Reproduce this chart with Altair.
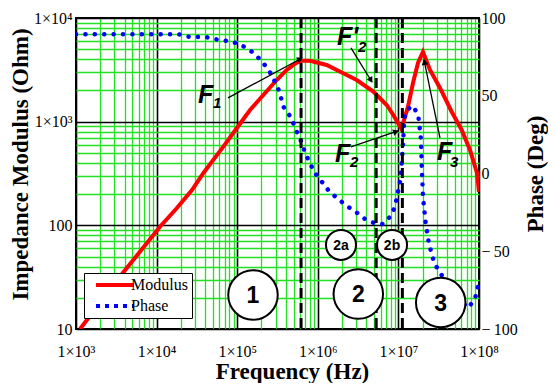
import math
import altair as alt
import pandas as pd

# ---------------- data ----------------
mod_f = [1122, 3828, 11015, 17750, 27480, 37930, 67300, 98600, 144300, 210900,
         309000, 411000, 547000, 631000, 800000, 1288000, 2070000, 3034000,
         4887000, 7161000, 8650000, 10900000, 13150000, 15170000, 17500000,
         20180000, 24660000, 32810000, 45810000, 60950000, 77270000, 94410000,
         100000000]
mod_z = [10.0, 34.8, 97, 146, 219, 318, 574, 863, 1297, 1807,
         2523, 3155, 3707, 3873, 3873, 3524, 2931, 2523,
         1950, 1449, 1161, 851, 1396, 2360, 3681,
         4699, 3155, 2113, 1247, 832, 533, 320,
         210]

phase_f = [1000, 18970, 24550, 41880, 54580, 71120, 93970, 122500, 158500, 204600,
           250000, 286400, 323600, 381100, 461300, 567500, 636800, 693400, 799800,
           897400, 1127000, 1377000, 1782000, 2301000, 2979000, 3855000, 4977000,
           6440000, 7870000, 8890000, 9530000, 9980000, 10470000, 10990000, 11400000,
           11720000, 12080000, 13650000, 15310000, 17660000, 18160000, 18920000,
           19230000, 19450000, 19630000, 20000000, 20180000, 20800000, 21380000,
           21980000, 23070000, 23990000, 25880000, 27670000, 32810000, 43650000,
           58080000, 73110000, 89130000, 94410000, 100000000]
phase_deg = [89.5, 89.5, 88.0, 87.6, 86.3, 85.4, 84.1, 81.5, 77.7, 71.9,
             65.9, 60.1, 54.3, 42.1, 36.3, 24.8, 19.6, 13.2, 6.8,
             1.0, -5.4, -11.3, -16.4, -20.9, -24.8, -29.3, -31.8,
             -32.5, -27.8, -22.4, -16.0, -10.6, -5.3, 6.8, 18.3,
             31.2, 37.6, 42.1, 43.4, 37.0, 31.2, 23.7,
             15.1, 6.6, 0.1, -9.5, -15.8, -21.5, -27.8,
             -33.8, -39.5, -46.0, -51.1, -57.4, -63.8, -73.0,
             -81.4, -86.5, -80.7, -74.9, -70.4]

series_names = ["Modulus", "Phase"]

# dashed boundaries (Hz)
bound_f = [620000, 5300000, 11200000]

# region circles
big_label = ["1", "2", "3"]
big_f = [157000, 3180000, 33500000]
big_z = [21.3, 21.7, 18.0]
small_label = ["2a", "2b"]
small_f = [1940000, 8340000]
small_z = [64.7, 64.7]

# F labels (main letter + subscript)
f_main = ["F", "F'", "F", "F"]
f_main_f = [32700, 1730000, 1630000, 30100000]
f_main_z = [1514, 5495, 408, 428]
f_sub = ["1", "2", "2", "3"]
f_sub_f = [50000, 3160000, 2510000, 43700000]
f_sub_z = [1355, 4700, 366, 366]

# arrows
arr_tail_f = [76900, 2580000, 2580000, 32800000]
arr_tail_z = [1694, 5140, 570, 697]
arr_tip_f = [637000, 4700000, 9890000, 20800000]
arr_tip_z = [4110, 2415, 813, 3936]

# ---------------- layout ----------------
W, H = 403, 311
F_DOM = [1e3, 1e8]
Z_DOM = [10, 1e4]


def px(f):
    return (math.log10(f) - 3) / 5 * W


def py(z):
    return (4 - math.log10(z)) / 3 * H


def inv(x, y):
    return 10 ** (3 + x / W * 5), 10 ** (4 - y / H * 3)


head_f, head_z, head_a = [], [], []
for tf, tz, hf, hz in zip(arr_tail_f, arr_tail_z, arr_tip_f, arr_tip_z):
    dx, dy = px(hf) - px(tf), py(hz) - py(tz)
    L = math.hypot(dx, dy)
    ux, uy = dx / L, dy / L
    cf, cz = inv(px(hf) - 3 * ux, py(hz) - 3 * uy)
    head_f.append(cf)
    head_z.append(cz)
    head_a.append(math.degrees(math.atan2(dx, -dy)) % 360)

mod_df = pd.DataFrame({"f": mod_f, "z": mod_z})
ph_df = pd.DataFrame({"f": phase_f, "p": phase_deg})
leg_df = pd.DataFrame({"f": [1e3, 1e3], "z": [10, 10], "series": series_names})
bound_df = pd.DataFrame({"f": bound_f})
big_df = pd.DataFrame({"f": big_f, "z": big_z, "t": big_label})
small_df = pd.DataFrame({"f": small_f, "z": small_z, "t": small_label})
fmain_df = pd.DataFrame({"f": f_main_f, "z": f_main_z, "t": f_main})
fsub_df = pd.DataFrame({"f": f_sub_f, "z": f_sub_z, "t": f_sub})
arr_df = pd.DataFrame({"f": arr_tail_f, "z": arr_tail_z, "f2": arr_tip_f, "z2": arr_tip_z})
head_df = pd.DataFrame({"f": head_f, "z": head_z, "a": head_a})

SERIF = "Liberation Serif"
SANS = "Liberation Sans"
GREEN = "#22e022"

decade = "abs(log(datum.value)/LN10 - round(log(datum.value)/LN10)) < 0.001"
sup = "['⁰','¹','²','³','⁴','⁵','⁶','⁷','⁸','⁹'][round(log(datum.value)/LN10)]"

xscale = alt.Scale(type="log", domain=F_DOM, nice=False)
zscale = alt.Scale(type="log", domain=Z_DOM, nice=False)
pscale = alt.Scale(domain=[-100, 100], nice=False, zero=False)

x_axis = alt.Axis(
    title="Frequency (Hz)", tickCount=20, ticks=False, domain=False,
    labelExpr=f"{decade} ? '1×10' + {sup} : ''", labelOverlap=False,
    labelFont=SERIF, labelFontSize=16, labelColor="black", labelPadding=14,
    labelFlush=False,
    titleFont=SERIF, titleFontSize=23, titleFontWeight="bold", titleColor="black",
    titlePadding=1, titleX=216,
    grid=True,
    gridColor={"condition": {"test": decade, "value": "black"}, "value": GREEN},
    gridWidth={"condition": {"test": decade, "value": 1.6}, "value": 1.3},
    gridOpacity=1,
)
y_axis = alt.Axis(
    title="Impedance Modulus (Ohm)", tickCount=20, ticks=False, domain=False,
    labelExpr=f"{decade} ? (datum.value >= 1000 ? '1×10' + {sup} : format(datum.value, 'd')) : ''",
    labelOverlap=False, labelFont=SERIF, labelFontSize=16, labelColor="black",
    labelPadding=4, labelFlush=False,
    titleFont=SERIF, titleFontSize=23, titleFontWeight="bold", titleColor="black",
    titlePadding=1, titleY=146,
    grid=True,
    gridColor={"condition": {"test": decade, "value": "black"}, "value": GREEN},
    gridWidth={"condition": {"test": decade, "value": 1.6}, "value": 1.3},
    gridOpacity=1,
)
p_axis = alt.Axis(
    orient="right", title="Phase (Deg)", values=[-100, -50, 0, 50, 100],
    ticks=False, domain=False, grid=False,
    labelExpr="datum.value < 0 ? '\u2212\u2009' + abs(datum.value) : '' + datum.value",
    labelFont=SERIF, labelFontSize=16, labelColor="black", labelPadding=2,
    labelFlush=False,
    titleFont=SERIF, titleFontSize=23, titleFontWeight="bold", titleColor="black",
    titleAngle=270, titlePadding=30,
)

legend_def = alt.Legend(
    title=None, orient="none", legendX=8, legendY=255,
    fillColor="white", strokeColor="black", padding=4,
    labelFont=SERIF, labelFontSize=16, labelColor="black",
    symbolType="M-4,0H4", symbolSize=90, symbolStrokeWidth=4,
    symbolOffset=19, rowPadding=5, labelOffset=8,
)

X = alt.X("f:Q", scale=xscale, axis=x_axis)
Y = alt.Y("z:Q", scale=zscale, axis=y_axis)
Yn = alt.Y("z:Q", scale=zscale, axis=None)

modulus = alt.Chart(mod_df).mark_line(color="#ff0000", strokeWidth=4, clip=True).encode(x=X, y=Y)

legend_layer = alt.Chart(leg_df).transform_filter("false").mark_line().encode(
    x=X, y=Y,
    color=alt.Color("series:N", scale=alt.Scale(domain=series_names, range=["#ff0000", "#0000ff"]),
                    legend=legend_def),
    strokeDash=alt.StrokeDash("series:N", scale=alt.Scale(domain=series_names, range=[[1, 0], [4, 5]]),
                              legend=legend_def),
)

phase = alt.Chart(ph_df).mark_line(color="#0000ff", strokeWidth=4.5, strokeDash=[0.1, 9.3],
                                   strokeCap="round", clip=True).encode(
    x=X, y=alt.Y("p:Q", scale=pscale, axis=p_axis),
)

bounds = alt.Chart(bound_df).mark_rule(color="black", strokeWidth=3, strokeDash=[10, 5]).encode(x=X)

big_c = alt.Chart(big_df).mark_point(shape="circle", filled=True, fill="white", stroke="black",
                                     strokeWidth=2, size=2450, opacity=1).encode(x=X, y=Yn)
small_c = alt.Chart(small_df).mark_point(shape="circle", filled=True, fill="white", stroke="black",
                                         strokeWidth=2, size=900, opacity=1).encode(x=X, y=Yn)
big_t = alt.Chart(big_df).mark_text(font=SANS, fontWeight="bold", fontSize=23, color="black",
                                    baseline="middle", dy=1).encode(x=X, y=Yn, text="t:N")
small_t = alt.Chart(small_df).mark_text(font=SANS, fontWeight="bold", fontSize=14, color="black",
                                        baseline="middle", dy=1).encode(x=X, y=Yn, text="t:N")

fmain = alt.Chart(fmain_df).mark_text(font=SANS, fontWeight="bold", fontStyle="italic", fontSize=25,
                                      color="black", align="left", baseline="alphabetic").encode(
    x=X, y=Yn, text="t:N")
fsub = alt.Chart(fsub_df).mark_text(font=SANS, fontWeight="bold", fontStyle="italic", fontSize=15,
                                    color="black", align="left", baseline="alphabetic").encode(
    x=X, y=Yn, text="t:N")

arrows = alt.Chart(arr_df).mark_rule(color="black", strokeWidth=1.3).encode(
    x=X, y=Yn, x2="f2:Q", y2="z2:Q")
heads = alt.Chart(head_df).mark_point(shape="triangle", filled=True, color="black", size=45,
                                      opacity=1).encode(
    x=X, y=Yn, angle=alt.Angle("a:Q", scale=None))

g1 = alt.layer(modulus, legend_layer)
g3 = alt.layer(bounds, big_c, small_c, big_t, small_t, arrows, heads, fmain, fsub)

chart = alt.layer(g1, phase, g3).resolve_scale(y="independent").properties(
    width=W, height=H,
    autosize=alt.AutoSizeParams(type="none"),
    padding={"left": 68, "top": 10, "right": 69, "bottom": 54},
).configure_view(stroke="black", strokeWidth=2)

chart.save("out.html", embed_options={"renderer": "svg", "actions": False})
